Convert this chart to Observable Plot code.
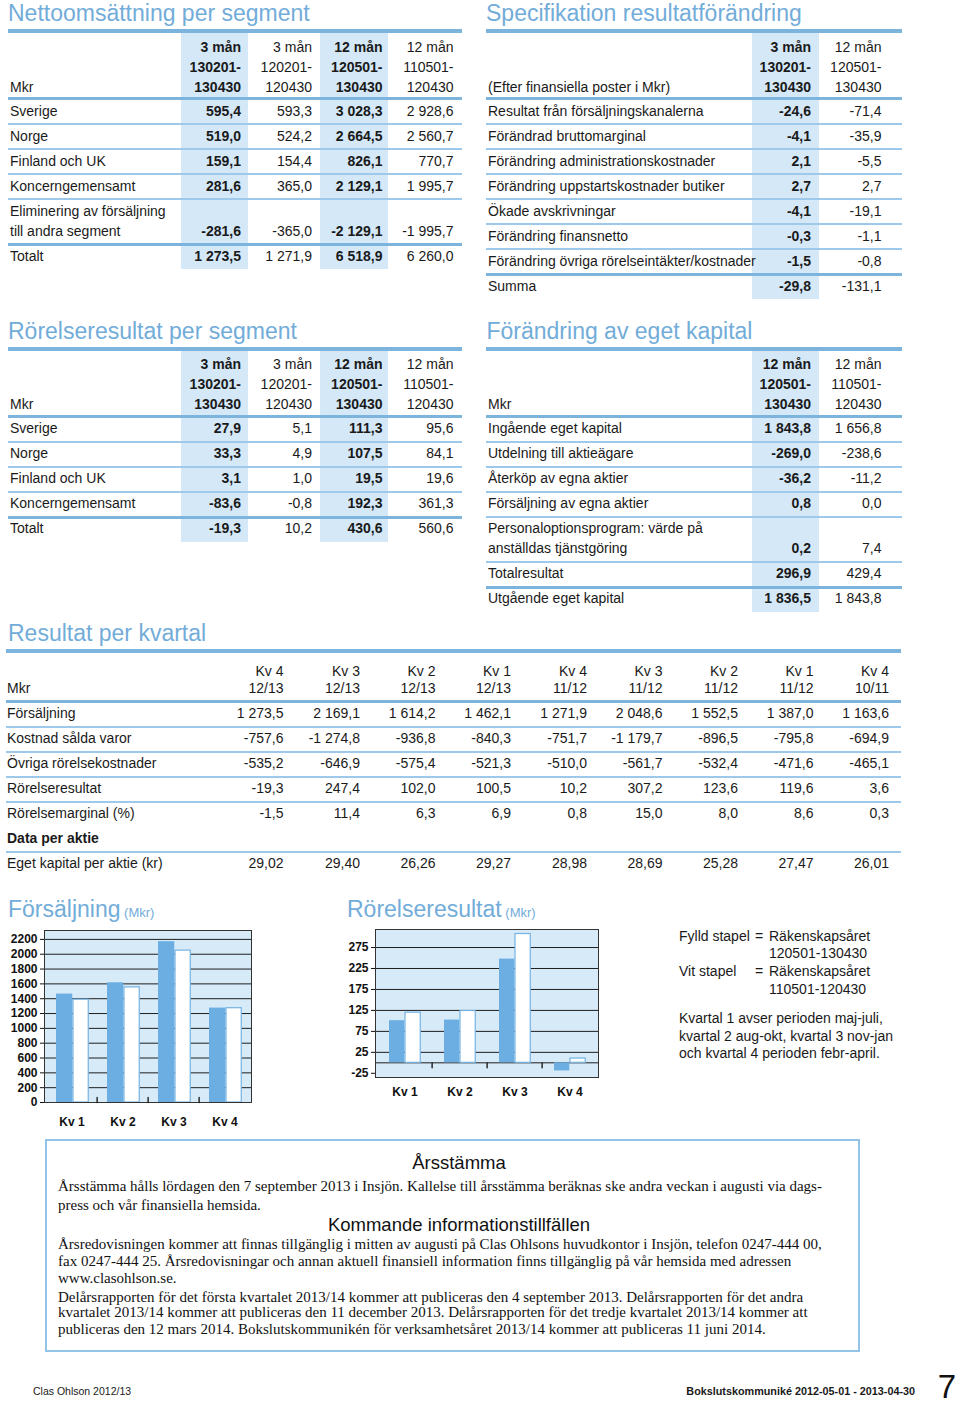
<!DOCTYPE html>
<html><head><meta charset="utf-8">
<script src="https://cdn.jsdelivr.net/npm/d3@7"></script>
<script src="https://cdn.jsdelivr.net/npm/@observablehq/plot@0.6"></script>
<style>
body{margin:0;background:#fff;}
#page{position:relative;width:960px;height:1404px;font-family:"Liberation Sans",Arial,Helvetica,sans-serif;color:#1a1a1a;overflow:hidden;background:#fff;}
#page div{white-space:nowrap;}
</style></head><body><div id="page"></div>
<script>
// ---------- DATA ----------
// Nettoomsättning per segment
const periodHeads4 = [["3 mån","130201-","130430"],["3 mån","120201-","120430"],["12 mån","120501-","130430"],["12 mån","110501-","120430"]];
const salesSegments = ["Sverige","Norge","Finland och UK","Koncerngemensamt",["Eliminering av försäljning","till andra segment"],"Totalt"];
const salesQ13 = [595.4, 519.0, 159.1, 281.6, -281.6, 1273.5];
const salesQ12 = [593.3, 524.2, 154.4, 365.0, -365.0, 1271.9];
const salesY13 = [3028.3, 2664.5, 826.1, 2129.1, -2129.1, 6518.9];
const salesY12 = [2928.6, 2560.7, 770.7, 1995.7, -1995.7, 6260.0];

// Rörelseresultat per segment
const ebitSegments = ["Sverige","Norge","Finland och UK","Koncerngemensamt","Totalt"];
const ebitQ13 = [27.9, 33.3, 3.1, -83.6, -19.3];
const ebitQ12 = [5.1, 4.9, 1.0, -0.8, 10.2];
const ebitY13 = [111.3, 107.5, 19.5, 192.3, 430.6];
const ebitY12 = [95.6, 84.1, 19.6, 361.3, 560.6];

// Specifikation resultatförändring
const specHeads = [["3 mån","130201-","130430"],["12 mån","120501-","130430"]];
const specItems = ["Resultat från försäljningskanalerna","Förändrad bruttomarginal","Förändring administrationskostnader","Förändring uppstartskostnader butiker","Ökade avskrivningar","Förändring finansnetto","Förändring övriga rörelseintäkter/kostnader","Summa"];
const specQ = [-24.6, -4.1, 2.1, 2.7, -4.1, -0.3, -1.5, -29.8];
const specY = [-71.4, -35.9, -5.5, 2.7, -19.1, -1.1, -0.8, -131.1];

// Förändring av eget kapital
const equityHeads = [["12 mån","120501-","130430"],["12 mån","110501-","120430"]];
const equityItems = ["Ingående eget kapital","Utdelning till aktieägare","Återköp av egna aktier","Försäljning av egna aktier",["Personaloptionsprogram: värde på","anställdas tjänstgöring"],"Totalresultat","Utgående eget kapital"];
const equity13 = [1843.8, -269.0, -36.2, 0.8, 0.2, 296.9, 1836.5];
const equity12 = [1656.8, -238.6, -11.2, 0.0, 7.4, 429.4, 1843.8];

// Resultat per kvartal
const quarterHeads = [["Kv 4","12/13"],["Kv 3","12/13"],["Kv 2","12/13"],["Kv 1","12/13"],["Kv 4","11/12"],["Kv 3","11/12"],["Kv 2","11/12"],["Kv 1","11/12"],["Kv 4","10/11"]];
const qSales   = [1273.5, 2169.1, 1614.2, 1462.1, 1271.9, 2048.6, 1552.5, 1387.0, 1163.6];
const qCogs    = [-757.6, -1274.8, -936.8, -840.3, -751.7, -1179.7, -896.5, -795.8, -694.9];
const qOpex    = [-535.2, -646.9, -575.4, -521.3, -510.0, -561.7, -532.4, -471.6, -465.1];
const qEbit    = [-19.3, 247.4, 102.0, 100.5, 10.2, 307.2, 123.6, 119.6, 3.6];
const qMargin  = [-1.5, 11.4, 6.3, 6.9, 0.8, 15.0, 8.0, 8.6, 0.3];
const qEquityPerShare = [29.02, 29.40, 26.26, 29.27, 28.98, 28.69, 25.28, 27.47, 26.01];

// Diagram
const chartQuarters = ["Kv 1","Kv 2","Kv 3","Kv 4"];
const salesCur  = [1462.1, 1614.2, 2169.1, 1273.5];   // 120501-130430 (fylld)
const salesPrev = [1387.0, 1552.5, 2048.6, 1271.9];   // 110501-120430 (vit)
const ebitCur   = [100.5, 102.0, 247.4, -19.3];
const ebitPrev  = [119.6, 123.6, 307.2, 10.2];
const salesTicks = [0,200,400,600,800,1000,1200,1400,1600,1800,2000,2200];
const ebitTicks  = [-25,25,75,125,175,225,275];

// ---------- STYLE ----------
const RULE = "#7db4de", THIN = "#9fc9ea", SHADE = "#d4e8f8", TITLE = "#72acd9";
const BAR = "#6caee2", BAR_STROKE = "#74b3e3", CHART_BG = "#d6eaf8";
const loc = d3.formatLocale({decimal: ",", thousands: "\u00a0", grouping: [3], currency: ["", ""], minus: "-"});
const f1 = loc.format(",.1f"), f2 = loc.format(",.2f");

const page = document.getElementById("page");
function add(css, txt) {
  const e = document.createElement("div");
  e.style.position = "absolute";
  Object.assign(e.style, css);
  if (txt != null) e.textContent = txt;
  page.appendChild(e);
  return e;
}
function box(x, y, w, h, bg) { return add({left: x + "px", top: y + "px", width: w + "px", height: h + "px", background: bg}); }
function label(x, cy, s, o = {}) {
  const size = o.size || 14, lh = 20;
  const css = {top: (cy - lh / 2) + "px", height: lh + "px", lineHeight: lh + "px", fontSize: size + "px",
    fontWeight: o.bold ? "bold" : "normal", color: o.color || "#1a1a1a"};
  if (o.family) css.fontFamily = o.family;
  if (o.right) css.right = (960 - x) + "px"; else css.left = x + "px";
  return add(css, s);
}
function title(x, top, s, small) {
  const e = add({left: x + "px", top: top + "px", fontSize: "23px", lineHeight: "26px", color: TITLE});
  e.textContent = s;
  if (small) { const sp = document.createElement("span"); sp.style.fontSize = "13px"; sp.textContent = " " + small; e.appendChild(sp); }
}

function table(t) {
  let y = t.top + 4;
  const headTop = y;
  const hl = t.headLineH || 20, hOff = t.headOff || 13.5, hH = t.headH || 64;
  const nh = t.heads[0].length;
  const headY = d3.range(nh).map(i => headTop + hOff + i * hl);
  y += hH;
  const headRuleY = y;
  y += 3;
  const layout = [];
  t.rows.forEach((r, i) => {
    let sep = null;
    if (i > 0) { const sh = r.sep === "thick" ? 3 : 2; sep = {y, h: sh, kind: r.sep || "thin"}; y += sh; }
    const lines = Array.isArray(r.label) ? r.label : [r.label];
    const off = r.sep === "thick" ? 9.5 : 10.5;
    layout.push({r, lines, sep, cys: lines.map((_, k) => y + off + 20 * k)});
    y += 23 + 20 * (lines.length - 1);
  });
  const bottom = y;
  (t.shades || []).forEach(([a, b]) => box(a, headTop, b - a, bottom - headTop, SHADE));
  box(t.x0, t.top, t.x1 - t.x0, 4, RULE);
  box(t.x0, headRuleY, t.x1 - t.x0, 3, RULE);
  layout.forEach(L => { if (L.sep && L.sep.kind !== "none") box(t.x0, L.sep.y, t.x1 - t.x0, L.sep.h, L.sep.kind === "thick" ? RULE : THIN); });
  title(t.titleX, t.top - 29, t.title);
  label(t.labelX, headY[nh - 1], t.headLabel);
  t.heads.forEach((col, j) => col.forEach((s, i) => label(t.rights[j], headY[i], s, {right: true, bold: t.bold[j]})));
  layout.forEach(L => {
    L.lines.forEach((s, k) => label(t.labelX, L.cys[k], s, {bold: L.r.bold}));
    (L.r.values || []).forEach((v, j) => label(t.rights[j], L.cys[L.cys.length - 1], t.fmt(v), {right: true, bold: t.bold[j]}));
  });
}

// Nettoomsättning per segment
table({
  title: "Nettoomsättning per segment", titleX: 8, top: 29, x0: 8, x1: 462, labelX: 10,
  rights: [241, 312, 382.5, 453.5], shades: [[181, 248], [320, 388]], bold: [true, false, true, false],
  heads: periodHeads4, headLabel: "Mkr", fmt: f1,
  rows: salesSegments.map((s, i) => ({label: s, values: [salesQ13[i], salesQ12[i], salesY13[i], salesY12[i]], sep: s === "Totalt" ? "thick" : "thin"}))
});
// Specifikation resultatförändring
table({
  title: "Specifikation resultatförändring", titleX: 486, top: 29, x0: 486, x1: 902, labelX: 488,
  rights: [811, 881.5], shades: [[751.5, 819]], bold: [true, false],
  heads: specHeads, headLabel: "(Efter finansiella poster i Mkr)", fmt: f1,
  rows: specItems.map((s, i) => ({label: s, values: [specQ[i], specY[i]], sep: s === "Summa" ? "thick" : "thin"}))
});
// Rörelseresultat per segment
table({
  title: "Rörelseresultat per segment", titleX: 8, top: 346.5, x0: 8, x1: 462, labelX: 10,
  rights: [241, 312, 382.5, 453.5], shades: [[181, 248], [320, 388]], bold: [true, false, true, false],
  heads: periodHeads4, headLabel: "Mkr", fmt: f1,
  rows: ebitSegments.map((s, i) => ({label: s, values: [ebitQ13[i], ebitQ12[i], ebitY13[i], ebitY12[i]], sep: s === "Totalt" ? "thick" : "thin"}))
});
// Förändring av eget kapital
table({
  title: "Förändring av eget kapital", titleX: 486.5, top: 346.5, x0: 486, x1: 902, labelX: 488,
  rights: [811, 881.5], shades: [[751.5, 819]], bold: [true, false],
  heads: equityHeads, headLabel: "Mkr", fmt: f1,
  rows: equityItems.map((s, i) => ({label: s, values: [equity13[i], equity12[i]], sep: s === "Utgående eget kapital" ? "thick" : "thin"}))
});
// Resultat per kvartal
const qRows = [
  {label: "Försäljning", vals: qSales, f: f1},
  {label: "Kostnad sålda varor", vals: qCogs, f: f1},
  {label: "Övriga rörelsekostnader", vals: qOpex, f: f1},
  {label: "Rörelseresultat", vals: qEbit, f: f1},
  {label: "Rörelsemarginal (%)", vals: qMargin, f: f1},
  {label: "Data per aktie", vals: null, bold: true, sep: "none"},
  {label: "Eget kapital per aktie (kr)", vals: qEquityPerShare, f: f2}
];
(function () {
  const rights = [283.5, 360, 435.5, 511, 587, 662.5, 738, 813.5, 889];
  const rows = qRows.map(r => ({label: r.label, bold: r.bold, sep: r.sep || "thin",
    values: r.vals ? r.vals.map(v => ({v, f: r.f})) : null}));
  table({
    title: "Resultat per kvartal", titleX: 8, top: 649.3, x0: 6, x1: 901, labelX: 7,
    rights, shades: [], bold: rights.map(() => false),
    heads: quarterHeads, headLabel: "Mkr", headLineH: 17, headOff: 18, headH: 46.5,
    fmt: d => d.f(d.v), rows
  });
})();

// ---------- CHARTS ----------
function barChart({left, top, width, height, mL, mR, mT, mB, domain, ticks, grid, cur, prev, insets, tickRotate, labelPad}) {
  const data = chartQuarters.map((q, i) => ({q, cur: cur[i], prev: prev[i]}));
  const bw = (width - mL - mR) / chartQuarters.length;
  const svg = Plot.plot({
    width, height, marginLeft: mL, marginRight: mR, marginTop: mT, marginBottom: mB,
    style: {fontFamily: "Liberation Sans, Arial, sans-serif", fontSize: "12px", color: "#111", background: "none", overflow: "visible"},
    x: {domain: chartQuarters, padding: 0, label: null},
    y: {domain, label: null},
    marks: [
      Plot.frame({fill: CHART_BG, stroke: "none"}),
      Plot.ruleY(grid, {stroke: "#1e1e1e", strokeWidth: 1}),
      Plot.barY(data, {x: "q", y: "cur", fill: BAR, insetLeft: insets[0], insetRight: insets[1]}),
      Plot.barY(data, {x: "q", y: "prev", fill: "#fff", stroke: BAR_STROKE, strokeWidth: 1.2, insetLeft: insets[2], insetRight: insets[3]}),
      Plot.frame({stroke: "#333", strokeWidth: 1}),
      Plot.vector(chartQuarters.slice(1), {x: d => d, y: () => 0, dx: -bw / 2, length: 5, rotate: tickRotate, anchor: "start", r: 0, stroke: "#1e1e1e", strokeWidth: 1.4}),
      Plot.axisY({ticks, tickSize: 4, tickPadding: 3, tickFormat: d => String(d), fontWeight: "bold", fontSize: 12, label: null}),
      Plot.axisX({tickSize: 0, tickPadding: labelPad, fontWeight: "bold", fontSize: 12, label: null})
    ]
  });
  svg.style.position = "absolute";
  svg.style.left = left + "px";
  svg.style.top = top + "px";
  page.appendChild(svg);
}
title(8, 896, "Försäljning", "(Mkr)");
barChart({left: 0, top: 920, width: 262, height: 212, mL: 44, mR: 11, mT: 10, mB: 30,
  domain: [0, 2320], ticks: salesTicks, grid: salesTicks.filter(d => d > 0),
  cur: salesCur, prev: salesPrev, insets: [10, 24.75, 27, 8.75], tickRotate: 0, labelPad: 15});
title(347, 896, "Rörelseresultat", "(Mkr)");
barChart({left: 340, top: 919, width: 268, height: 183, mL: 35, mR: 10, mT: 10, mB: 25,
  domain: [-35, 318], ticks: ebitTicks, grid: [0, ...ebitTicks.filter(d => d > 0)],
  cur: ebitCur, prev: ebitPrev, insets: [12, 27.75, 28, 11.75], tickRotate: 180, labelPad: 10});

// Legend text
label(679, 936, "Fylld stapel"); label(755, 936, "="); label(769, 936, "Räkenskapsåret");
label(769, 953, "120501-130430");
label(679, 971, "Vit stapel"); label(755, 971, "="); label(769, 971, "Räkenskapsåret");
label(769, 989, "110501-120430");
label(679, 1018, "Kvartal 1 avser perioden maj-juli,");
label(679, 1036, "kvartal 2 aug-okt, kvartal 3 nov-jan");
label(679, 1053, "och kvartal 4 perioden febr-april.");

// Info box
add({left: "45px", top: "1139px", width: "811px", height: "209px", border: "2px solid #93c3e7"});
function heading(cy, s) { add({left: "459px", top: (cy - 11) + "px", lineHeight: "22px", fontSize: "18.5px", transform: "translateX(-50%)", color: "#111"}, s); }
const SERIF = "'Liberation Serif','Times New Roman',serif";
function body(cy, s) { label(58, cy, s, {size: 15, family: SERIF, color: "#111"}); }
heading(1163, "Årsstämma");
body(1186, "Årsstämma hålls lördagen den 7 september 2013 i Insjön. Kallelse till årsstämma beräknas ske andra veckan i augusti via dags-");
body(1205, "press och vår finansiella hemsida.");
heading(1225, "Kommande informationstillfällen");
body(1244, "Årsredovisningen kommer att finnas tillgänglig i mitten av augusti på Clas Ohlsons huvudkontor i Insjön, telefon 0247-444 00,");
body(1261, "fax 0247-444 25. Årsredovisningar och annan aktuell finansiell information finns tillgänglig på vår hemsida med adressen");
body(1278, "www.clasohlson.se.");
body(1296.5, "Delårsrapporten för det första kvartalet 2013/14 kommer att publiceras den 4 september 2013. Delårsrapporten för det andra");
body(1312, "kvartalet 2013/14 kommer att publiceras den 11 december 2013. Delårsrapporten för det tredje kvartalet 2013/14 kommer att");
body(1328.5, "publiceras den 12 mars 2014. Bokslutskommunikén för verksamhetsåret 2013/14 kommer att publiceras 11 juni 2014.");

// Footer
label(33, 1391, "Clas Ohlson 2012/13", {size: 10.5});
label(915, 1391, "Bokslutskommuniké 2012-05-01 - 2013-04-30", {size: 10.8, bold: true, right: true});
add({left: "936px", top: "1370px", fontSize: "33px", lineHeight: "34px", color: "#111", width: "22px", textAlign: "center"}, "7");
</script>
</body></html>
